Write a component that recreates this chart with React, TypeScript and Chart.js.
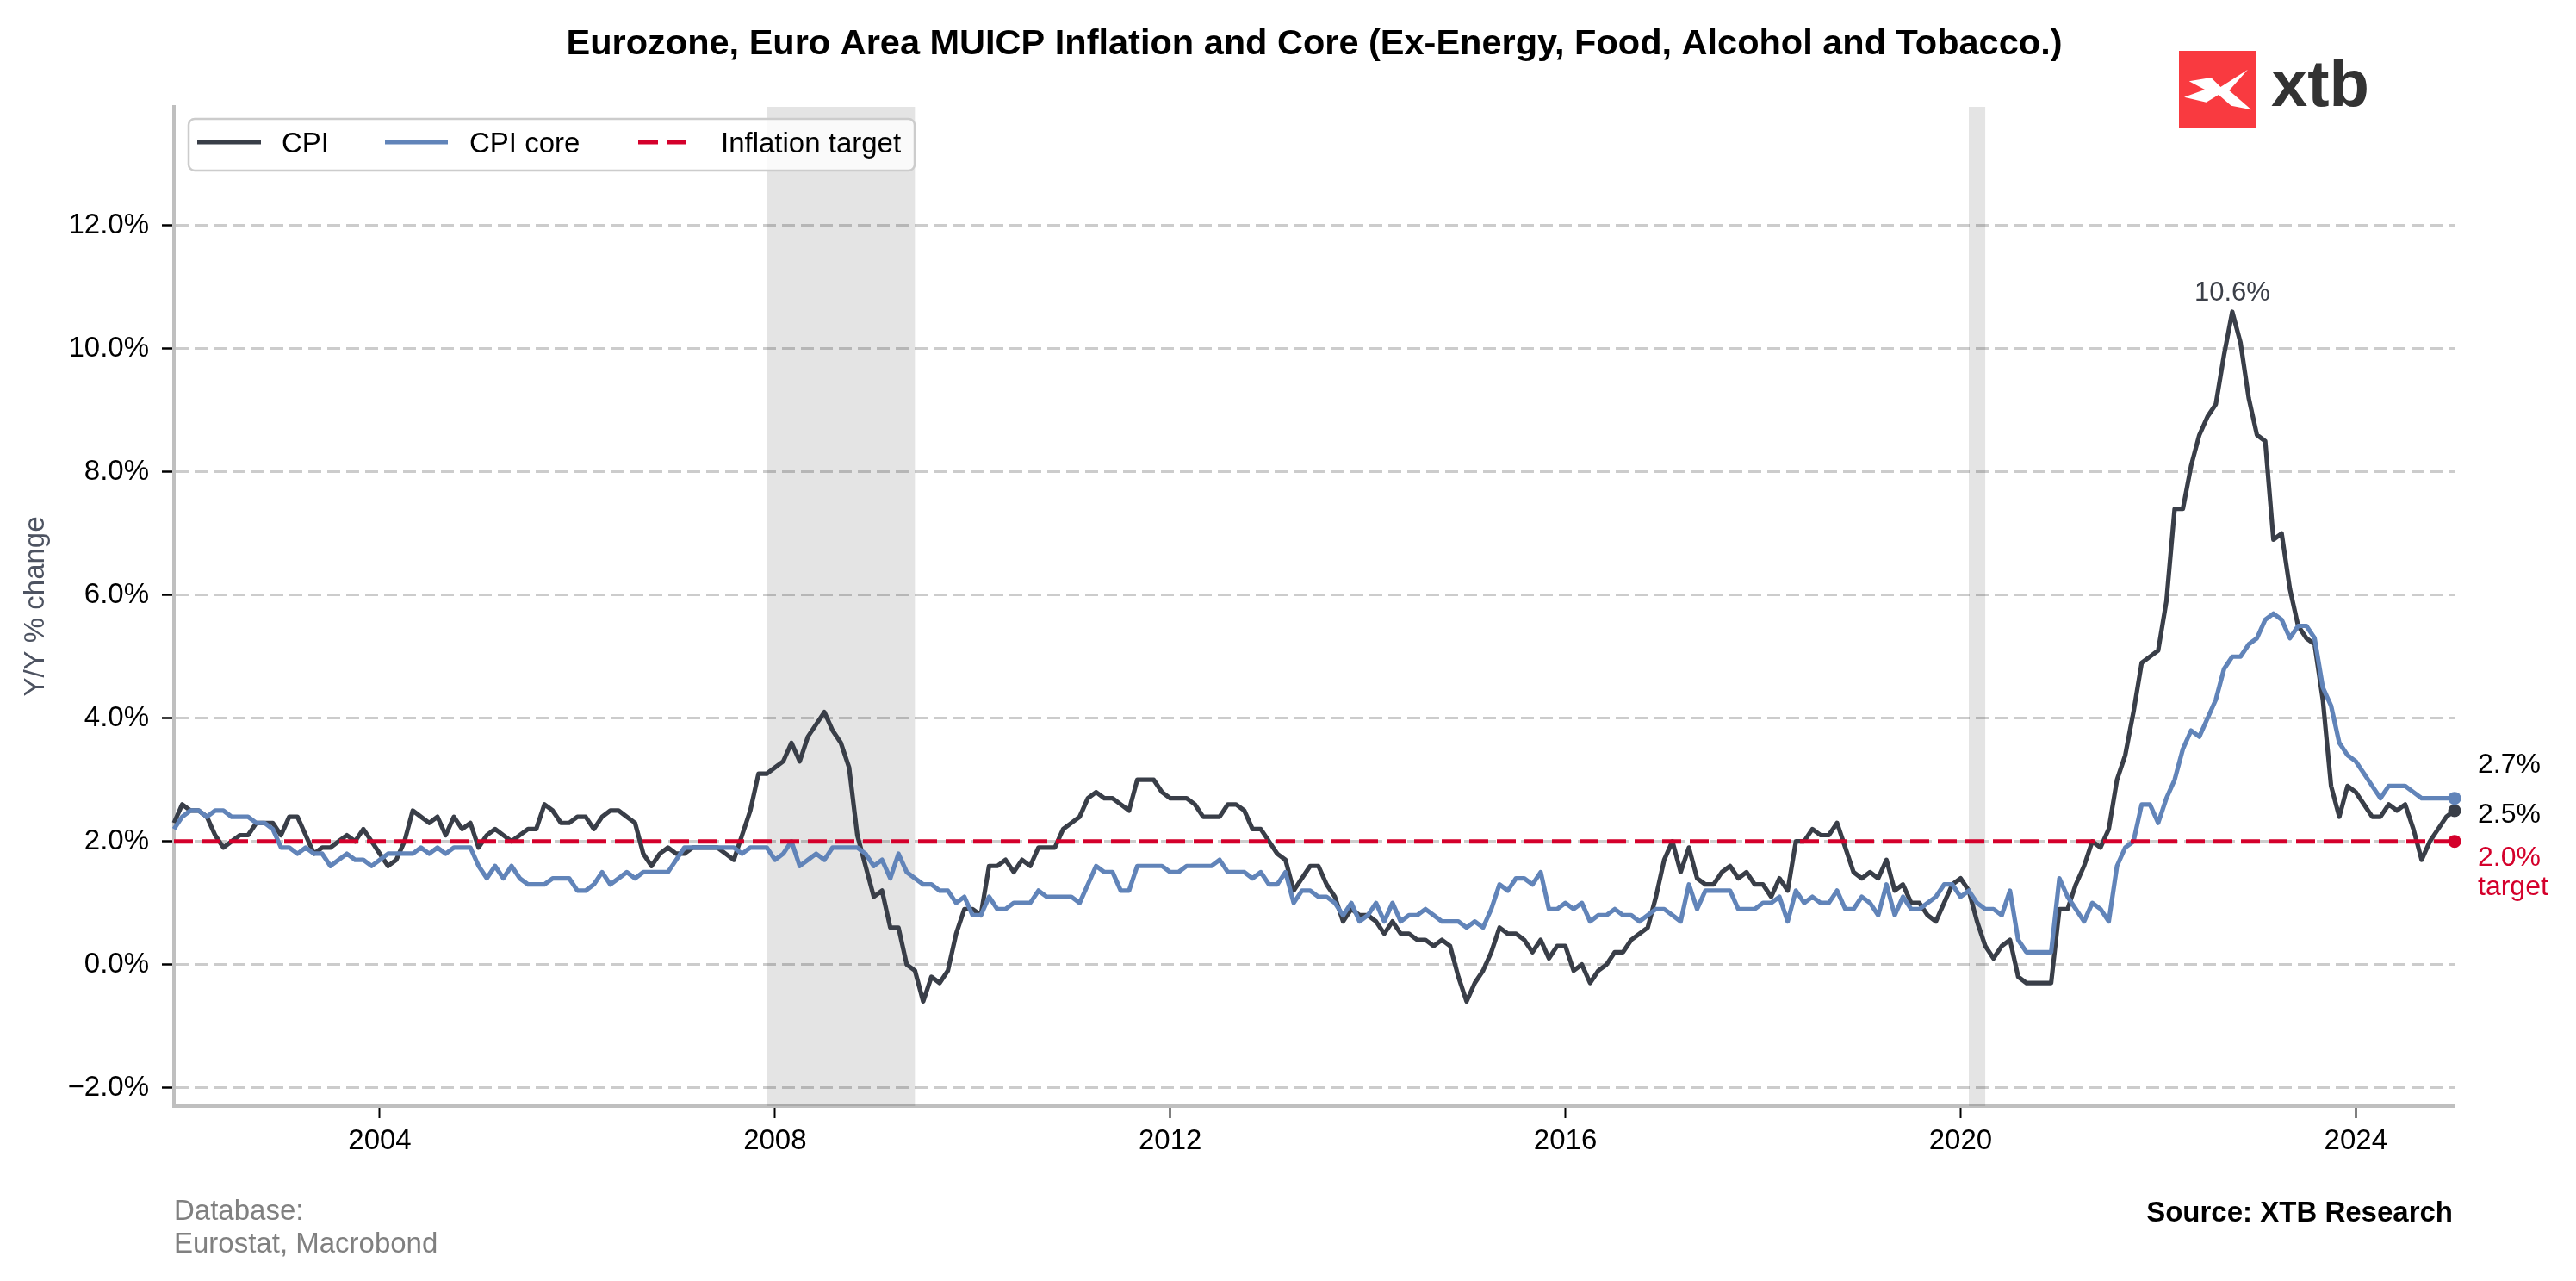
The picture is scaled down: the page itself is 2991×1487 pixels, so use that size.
import React, { useEffect, useRef } from 'react';
import { Chart, registerables } from 'chart.js';

Chart.register(...registerables);

const W = 2991;
const H = 1487;

// Monthly series start in Dec 2001 and end in Jan 2025
const START_YEAR = 2001;
const START_MONTH = 12;

const CPI: number[] = [
  2.3,
  2.6, 2.5, 2.5, 2.4, 2.1, 1.9, 2.0, 2.1, 2.1, 2.3, 2.3, 2.3, // 2002
  2.1, 2.4, 2.4, 2.1, 1.8, 1.9, 1.9, 2.0, 2.1, 2.0, 2.2, 2.0, // 2003
  1.8, 1.6, 1.7, 2.0, 2.5, 2.4, 2.3, 2.4, 2.1, 2.4, 2.2, 2.3, // 2004
  1.9, 2.1, 2.2, 2.1, 2.0, 2.1, 2.2, 2.2, 2.6, 2.5, 2.3, 2.3, // 2005
  2.4, 2.4, 2.2, 2.4, 2.5, 2.5, 2.4, 2.3, 1.8, 1.6, 1.8, 1.9, // 2006
  1.8, 1.8, 1.9, 1.9, 1.9, 1.9, 1.8, 1.7, 2.1, 2.5, 3.1, 3.1, // 2007
  3.2, 3.3, 3.6, 3.3, 3.7, 3.9, 4.1, 3.8, 3.6, 3.2, 2.1, 1.6, // 2008
  1.1, 1.2, 0.6, 0.6, 0.0, -0.1, -0.6, -0.2, -0.3, -0.1, 0.5, 0.9, // 2009
  0.9, 0.8, 1.6, 1.6, 1.7, 1.5, 1.7, 1.6, 1.9, 1.9, 1.9, 2.2, // 2010
  2.3, 2.4, 2.7, 2.8, 2.7, 2.7, 2.6, 2.5, 3.0, 3.0, 3.0, 2.8, // 2011
  2.7, 2.7, 2.7, 2.6, 2.4, 2.4, 2.4, 2.6, 2.6, 2.5, 2.2, 2.2, // 2012
  2.0, 1.8, 1.7, 1.2, 1.4, 1.6, 1.6, 1.3, 1.1, 0.7, 0.9, 0.8, // 2013
  0.8, 0.7, 0.5, 0.7, 0.5, 0.5, 0.4, 0.4, 0.3, 0.4, 0.3, -0.2, // 2014
  -0.6, -0.3, -0.1, 0.2, 0.6, 0.5, 0.5, 0.4, 0.2, 0.4, 0.1, 0.3, // 2015
  0.3, -0.1, 0.0, -0.3, -0.1, 0.0, 0.2, 0.2, 0.4, 0.5, 0.6, 1.1, // 2016
  1.7, 2.0, 1.5, 1.9, 1.4, 1.3, 1.3, 1.5, 1.6, 1.4, 1.5, 1.3, // 2017
  1.3, 1.1, 1.4, 1.2, 2.0, 2.0, 2.2, 2.1, 2.1, 2.3, 1.9, 1.5, // 2018
  1.4, 1.5, 1.4, 1.7, 1.2, 1.3, 1.0, 1.0, 0.8, 0.7, 1.0, 1.3, // 2019
  1.4, 1.2, 0.7, 0.3, 0.1, 0.3, 0.4, -0.2, -0.3, -0.3, -0.3, -0.3, // 2020
  0.9, 0.9, 1.3, 1.6, 2.0, 1.9, 2.2, 3.0, 3.4, 4.1, 4.9, 5.0, // 2021
  5.1, 5.9, 7.4, 7.4, 8.1, 8.6, 8.9, 9.1, 9.9, 10.6, 10.1, 9.2, // 2022
  8.6, 8.5, 6.9, 7.0, 6.1, 5.5, 5.3, 5.2, 4.3, 2.9, 2.4, 2.9, // 2023
  2.8, 2.6, 2.4, 2.4, 2.6, 2.5, 2.6, 2.2, 1.7, 2.0, 2.2, 2.4, // 2024
  2.5, // 2025
];

const CORE: number[] = [
  2.2,
  2.4, 2.5, 2.5, 2.4, 2.5, 2.5, 2.4, 2.4, 2.4, 2.3, 2.3, 2.2, // 2002
  1.9, 1.9, 1.8, 1.9, 1.8, 1.8, 1.6, 1.7, 1.8, 1.7, 1.7, 1.6, // 2003
  1.7, 1.8, 1.8, 1.8, 1.8, 1.9, 1.8, 1.9, 1.8, 1.9, 1.9, 1.9, // 2004
  1.6, 1.4, 1.6, 1.4, 1.6, 1.4, 1.3, 1.3, 1.3, 1.4, 1.4, 1.4, // 2005
  1.2, 1.2, 1.3, 1.5, 1.3, 1.4, 1.5, 1.4, 1.5, 1.5, 1.5, 1.5, // 2006
  1.7, 1.9, 1.9, 1.9, 1.9, 1.9, 1.9, 1.9, 1.8, 1.9, 1.9, 1.9, // 2007
  1.7, 1.8, 2.0, 1.6, 1.7, 1.8, 1.7, 1.9, 1.9, 1.9, 1.9, 1.8, // 2008
  1.6, 1.7, 1.4, 1.8, 1.5, 1.4, 1.3, 1.3, 1.2, 1.2, 1.0, 1.1, // 2009
  0.8, 0.8, 1.1, 0.9, 0.9, 1.0, 1.0, 1.0, 1.2, 1.1, 1.1, 1.1, // 2010
  1.1, 1.0, 1.3, 1.6, 1.5, 1.5, 1.2, 1.2, 1.6, 1.6, 1.6, 1.6, // 2011
  1.5, 1.5, 1.6, 1.6, 1.6, 1.6, 1.7, 1.5, 1.5, 1.5, 1.4, 1.5, // 2012
  1.3, 1.3, 1.5, 1.0, 1.2, 1.2, 1.1, 1.1, 1.0, 0.8, 1.0, 0.7, // 2013
  0.8, 1.0, 0.7, 1.0, 0.7, 0.8, 0.8, 0.9, 0.8, 0.7, 0.7, 0.7, // 2014
  0.6, 0.7, 0.6, 0.9, 1.3, 1.2, 1.4, 1.4, 1.3, 1.5, 0.9, 0.9, // 2015
  1.0, 0.9, 1.0, 0.7, 0.8, 0.8, 0.9, 0.8, 0.8, 0.7, 0.8, 0.9, // 2016
  0.9, 0.8, 0.7, 1.3, 0.9, 1.2, 1.2, 1.2, 1.2, 0.9, 0.9, 0.9, // 2017
  1.0, 1.0, 1.1, 0.7, 1.2, 1.0, 1.1, 1.0, 1.0, 1.2, 0.9, 0.9, // 2018
  1.1, 1.0, 0.8, 1.3, 0.8, 1.1, 0.9, 0.9, 1.0, 1.1, 1.3, 1.3, // 2019
  1.1, 1.2, 1.0, 0.9, 0.9, 0.8, 1.2, 0.4, 0.2, 0.2, 0.2, 0.2, // 2020
  1.4, 1.1, 0.9, 0.7, 1.0, 0.9, 0.7, 1.6, 1.9, 2.0, 2.6, 2.6, // 2021
  2.3, 2.7, 3.0, 3.5, 3.8, 3.7, 4.0, 4.3, 4.8, 5.0, 5.0, 5.2, // 2022
  5.3, 5.6, 5.7, 5.6, 5.3, 5.5, 5.5, 5.3, 4.5, 4.2, 3.6, 3.4, // 2023
  3.3, 3.1, 2.9, 2.7, 2.9, 2.9, 2.9, 2.8, 2.7, 2.7, 2.7, 2.7, // 2024
  2.7, // 2025
];

const TARGET = 2.0;
const X_TICKS = [2004, 2008, 2012, 2016, 2020, 2024];
const Y_TICKS = [-2, 0, 2, 4, 6, 8, 10, 12];
const Y_MIN = -2.3;
const Y_MAX = 13.93;
const RECESSIONS: [string, string][] = [
  ['2007-12', '2009-06'],
  ['2020-02', '2020-04'],
];

const TITLE = 'Eurozone, Euro Area MUICP Inflation and Core (Ex-Energy, Food, Alcohol and Tobacco.)';
const Y_LABEL = 'Y/Y % change';
const FOOT_LEFT = ['Database:', 'Eurostat, Macrobond'];
const FOOT_RIGHT = 'Source: XTB Research';

const DATES = CPI.map((_, i) => START_YEAR + (START_MONTH - 1 + i) / 12);
const toX = (ym: string) => {
  const [y, m] = ym.split('-').map(Number);
  return y + (m - 1) / 12;
};

const FONT = '"Liberation Sans", Arial, Helvetica, sans-serif';
const CPI_COLOR = '#393e48';
const CORE_COLOR = '#6184b9';
const RED = '#d4002b';

const fmtPct = (v: number) => (v < 0 ? '\u2212' : '') + Math.abs(v).toFixed(1) + '%';

const decor = {
  id: 'decor',
  beforeDatasetsDraw(chart: any) {
    const { ctx, chartArea: a, scales } = chart;
    const x = scales.x;
    ctx.save();
    ctx.fillStyle = 'rgba(0,0,0,0.105)';
    for (const [s, e] of RECESSIONS) {
      const x1 = x.getPixelForValue(toX(s));
      const x2 = x.getPixelForValue(toX(e));
      ctx.fillRect(x1, a.top, x2 - x1, a.bottom - a.top);
    }
    ctx.restore();
  },
  afterDraw(chart: any) {
    const { ctx, chartArea: a, scales } = chart;
    const xs = scales.x;
    const ys = scales.y;
    ctx.save();

    // Title
    ctx.fillStyle = '#000';
    ctx.font = `bold 41.5px ${FONT}`;
    ctx.textAlign = 'center';
    ctx.textBaseline = 'alphabetic';
    ctx.fillText(TITLE, (a.left + a.right) / 2, 63);

    // Logo
    const lx = 2530, ly = 59, ls = 90;
    ctx.fillStyle = '#f93a40';
    ctx.fillRect(lx, ly, ls, ls);
    const poly = [
      [11.7, 35.3], [37.3, 31], [48.3, 42], [80, 21.7], [58.3, 46], [84, 68.3],
      [60.7, 63.7], [46, 51], [31.7, 59.7], [6, 53.7], [30, 45],
    ];
    ctx.fillStyle = '#fff';
    ctx.beginPath();
    poly.forEach(([px, py], i) => (i ? ctx.lineTo(lx + px, ly + py) : ctx.moveTo(lx + px, ly + py)));
    ctx.closePath();
    ctx.fill();
    ctx.fillStyle = '#333333';
    ctx.font = `bold 76px ${FONT}`;
    ctx.textAlign = 'left';
    ctx.fillText('xtb', 2637, 123);

    // Legend
    ctx.fillStyle = 'rgba(255,255,255,0.8)';
    ctx.strokeStyle = '#cccccc';
    ctx.lineWidth = 2.5;
    ctx.beginPath();
    ctx.roundRect(219, 138, 843, 60, 7);
    ctx.fill();
    ctx.stroke();
    const items = [
      { label: 'CPI', color: CPI_COLOR, dash: [] as number[], x0: 229, x1: 303, tx: 327 },
      { label: 'CPI core', color: CORE_COLOR, dash: [] as number[], x0: 447, x1: 520, tx: 545 },
      { label: 'Inflation target', color: RED, dash: [23, 10], x0: 741, x1: 798, tx: 837 },
    ];
    ctx.font = `33px ${FONT}`;
    for (const it of items) {
      ctx.strokeStyle = it.color;
      ctx.lineWidth = 5.2;
      ctx.setLineDash(it.dash);
      ctx.beginPath();
      ctx.moveTo(it.x0, 165);
      ctx.lineTo(it.x1, 165);
      ctx.stroke();
      ctx.setLineDash([]);
      ctx.fillStyle = '#000';
      ctx.fillText(it.label, it.tx, 177);
    }

    // Y-axis label
    ctx.save();
    ctx.translate(42, (a.top + a.bottom) / 2);
    ctx.rotate(-Math.PI / 2);
    ctx.fillStyle = '#4d5361';
    ctx.font = `33px ${FONT}`;
    ctx.textAlign = 'center';
    ctx.textBaseline = 'middle';
    ctx.fillText(Y_LABEL, 0, 0);
    ctx.restore();

    // Footer
    ctx.textBaseline = 'alphabetic';
    ctx.textAlign = 'left';
    ctx.fillStyle = '#808080';
    ctx.font = `33px ${FONT}`;
    ctx.fillText(FOOT_LEFT[0], 202, 1416);
    ctx.fillText(FOOT_LEFT[1], 202, 1454);
    ctx.textAlign = 'right';
    ctx.fillStyle = '#000';
    ctx.font = `bold 33px ${FONT}`;
    ctx.fillText(FOOT_RIGHT, 2848, 1418);

    // Peak label
    const peak = Math.max(...CPI);
    const pi = CPI.indexOf(peak);
    ctx.textAlign = 'center';
    ctx.fillStyle = '#3b3f48';
    ctx.font = `31px ${FONT}`;
    ctx.fillText(fmtPct(peak), xs.getPixelForValue(DATES[pi]), ys.getPixelForValue(peak) - 13);

    // End labels
    const last = CPI.length - 1;
    const tx = a.right + 27;
    ctx.textAlign = 'left';
    ctx.font = `32px ${FONT}`;
    ctx.fillStyle = '#000';
    ctx.fillText(fmtPct(CORE[last]), tx, ys.getPixelForValue(CORE[last]) - 30);
    ctx.fillText(fmtPct(CPI[last]), tx, ys.getPixelForValue(CPI[last]) + 14);
    ctx.fillStyle = RED;
    ctx.fillText(fmtPct(TARGET), tx, ys.getPixelForValue(TARGET) + 28);
    ctx.fillText('target', tx, ys.getPixelForValue(TARGET) + 62);

    ctx.restore();
  },
};

export default function App() {
  const ref = useRef<HTMLCanvasElement>(null);

  useEffect(() => {
    document.body.style.margin = '0';
    const canvas = ref.current;
    if (!canvas) return;
    const last = CPI.length - 1;
    const pts = (vals: number[]) => vals.map((v, i) => ({ x: DATES[i], y: v }));
    const endDot = (r: number) => (c: any) => (c.dataIndex === c.dataset.data.length - 1 ? r : 0);

    const chart = new Chart(canvas, {
      type: 'line',
      data: {
        datasets: [
          {
            label: 'Inflation target',
            data: [{ x: DATES[0], y: TARGET }, { x: DATES[last], y: TARGET }],
            borderColor: RED,
            backgroundColor: RED,
            pointBackgroundColor: RED,
            borderWidth: 5,
            borderDash: [22, 10],
            pointRadius: endDot(7.5),
            pointBorderWidth: 0,
            pointHoverRadius: 0,
            clip: false,
            order: 0,
          },
          {
            label: 'CPI core',
            data: pts(CORE),
            borderColor: CORE_COLOR,
            backgroundColor: CORE_COLOR,
            pointBackgroundColor: CORE_COLOR,
            borderWidth: 5.2,
            pointRadius: endDot(7.5),
            pointBorderWidth: 0,
            pointHoverRadius: 0,
            clip: false,
            order: 1,
          },
          {
            label: 'CPI',
            data: pts(CPI),
            borderColor: CPI_COLOR,
            backgroundColor: CPI_COLOR,
            pointBackgroundColor: CPI_COLOR,
            borderWidth: 5.2,
            pointRadius: endDot(7.5),
            pointBorderWidth: 0,
            pointHoverRadius: 0,
            clip: false,
            order: 2,
          },
        ],
      },
      options: {
        responsive: false,
        animation: false,
        devicePixelRatio: 1,
        events: [],
        layout: { padding: { top: 124, right: 141, bottom: 0, left: 0 } },
        elements: {
          line: { tension: 0, borderJoinStyle: 'round', borderCapStyle: 'butt' },
          point: { radius: 0 },
        },
        plugins: {
          legend: { display: false },
          tooltip: { enabled: false },
          title: { display: false },
        },
        scales: {
          x: {
            type: 'linear',
            min: DATES[0],
            max: DATES[last],
            afterFit: (s: any) => {
              s.height = 203;
            },
            afterBuildTicks: (s: any) => {
              s.ticks = X_TICKS.map((v) => ({ value: v }));
            },
            ticks: {
              callback: (v: any) => String(v),
              font: { family: FONT, size: 33 },
              color: '#000',
              padding: 7,
              autoSkip: false,
              maxRotation: 0,
            },
            grid: {
              drawOnChartArea: false,
              drawTicks: true,
              tickLength: 14,
              tickColor: '#000',
              tickWidth: 2,
            },
            border: { color: '#bfbfbf', width: 4 },
          },
          y: {
            type: 'linear',
            min: Y_MIN,
            max: Y_MAX,
            afterFit: (s: any) => {
              s.width = 202;
            },
            afterBuildTicks: (s: any) => {
              s.ticks = Y_TICKS.map((v) => ({ value: v }));
            },
            ticks: {
              callback: (v: any) => fmtPct(Number(v)),
              font: { family: FONT, size: 33 },
              color: '#000',
              padding: 15,
              autoSkip: false,
            },
            grid: {
              color: '#cccccc',
              lineWidth: 3,
              drawTicks: true,
              tickLength: 14,
              tickColor: '#000',
              tickWidth: 2.5,
              tickBorderDash: [],
            },
            border: { color: '#bfbfbf', width: 4, dash: [15, 7] },
          },
        },
      },
      plugins: [decor],
    } as any);

    return () => chart.destroy();
  }, []);

  return (
    <div style={{ position: 'absolute', left: 0, top: 0, width: W, height: H, background: '#fff' }}>
      <canvas ref={ref} width={W} height={H} style={{ display: 'block', width: W, height: H }} />
    </div>
  );
}
